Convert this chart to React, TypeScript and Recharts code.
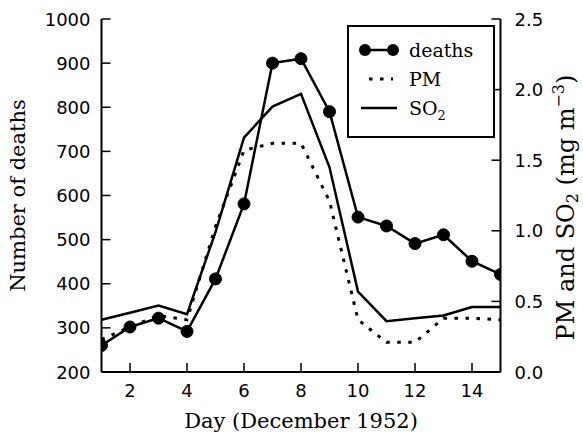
import React from 'react';
import { LineChart, Line, XAxis, YAxis, Legend } from 'recharts';

const days = [1, 2, 3, 4, 5, 6, 7, 8, 9, 10, 11, 12, 13, 14, 15];
const deaths = [260, 302, 322, 292, 411, 581, 900, 910, 790, 551, 531, 491, 511, 451, 421];
const pm = [0.23, 0.32, 0.4, 0.37, 1.03, 1.57, 1.62, 1.62, 1.21, 0.37, 0.21, 0.21, 0.38, 0.38, 0.37];
const so2 = [0.37, 0.42, 0.47, 0.41, 0.99, 1.66, 1.88, 1.97, 1.45, 0.57, 0.36, 0.38, 0.4, 0.46, 0.46];

const dayTicks = [2, 4, 6, 8, 10, 12, 14];
const deathTicks = [200, 300, 400, 500, 600, 700, 800, 900, 1000];
const concTicks = [0, 0.5, 1.0, 1.5, 2.0, 2.5];
const legendOrder = ['deaths', 'PM', 'SO2'];

const data = days.map((d, i) => ({ day: d, deaths: deaths[i], pm: pm[i], so2: so2[i] }));

const TICK = 9;
const SANS = 'DejaVu Sans';
const SERIF = 'DejaVu Serif';

const BottomTick = (props: any) => {
  const { x, y, payload } = props;
  return (
    <g>
      <line x1={x} y1={y} x2={x} y2={y - TICK} stroke="#000" strokeWidth={1.5} />
      <text x={x} y={y + 25} textAnchor="middle" fontFamily={SANS} fontSize={18} fill="#000">
        {payload.value}
      </text>
    </g>
  );
};

const TopTick = (props: any) => {
  const { x, y } = props;
  return <line x1={x} y1={y} x2={x} y2={y + TICK} stroke="#000" strokeWidth={1.5} />;
};

const LeftTick = (props: any) => {
  const { x, y, payload } = props;
  return (
    <g>
      <line x1={x} y1={y} x2={x + TICK} y2={y} stroke="#000" strokeWidth={1.5} />
      <text x={x - 11} y={y + 6.5} textAnchor="end" fontFamily={SANS} fontSize={18} fill="#000">
        {payload.value}
      </text>
    </g>
  );
};

const RightTick = (props: any) => {
  const { x, y, payload } = props;
  return (
    <g>
      <line x1={x} y1={y} x2={x - TICK} y2={y} stroke="#000" strokeWidth={1.5} />
      <text x={x + 14} y={y + 6.5} textAnchor="start" fontFamily={SANS} fontSize={18} fill="#000">
        {Number(payload.value).toFixed(1)}
      </text>
    </g>
  );
};

const LeftLabel = (props: any) => {
  const { viewBox } = props;
  const cy = viewBox.y + viewBox.height / 2;
  return (
    <text x={0} y={0} transform={`translate(25, ${cy}) rotate(-90)`} textAnchor="middle"
      fontFamily={SERIF} fontSize={21} fill="#000">
      Number of deaths
    </text>
  );
};

const RightLabel = (props: any) => {
  const { viewBox } = props;
  const cy = viewBox.y + viewBox.height / 2 + 12;
  return (
    <text x={0} y={0} transform={`translate(574, ${cy}) rotate(-90)`} textAnchor="middle"
      fontFamily={SERIF} fontSize={24} fill="#000">
      PM and SO<tspan fontSize={16} dy={4}>2</tspan>
      <tspan dy={-4}> (mg m</tspan>
      <tspan fontSize={16} dy={-10}>−3</tspan>
      <tspan dy={10}>)</tspan>
    </text>
  );
};

const BottomLabel = (props: any) => {
  const { viewBox } = props;
  const cx = viewBox.x + viewBox.width / 2;
  return (
    <text x={cx} y={428} textAnchor="middle" fontFamily={SERIF} fontSize={21} fill="#000">
      Day (December 1952)
    </text>
  );
};

const LegendIcon = ({ name }: { name: string }) => {
  if (name === 'deaths') {
    return (
      <svg width={40} height={16}>
        <line x1={6} y1={8} x2={34} y2={8} stroke="#000" strokeWidth={2.5} />
        <circle cx={6} cy={8} r={6} fill="#000" />
        <circle cx={34} cy={8} r={6} fill="#000" />
      </svg>
    );
  }
  if (name === 'PM') {
    return (
      <svg width={40} height={16}>
        <line x1={10} y1={8} x2={34} y2={8} stroke="#000" strokeWidth={3} strokeDasharray="3.5 7.5" />
      </svg>
    );
  }
  return (
    <svg width={40} height={16}>
      <line x1={2} y1={8} x2={38} y2={8} stroke="#000" strokeWidth={2.5} />
    </svg>
  );
};

const renderLegend = (props: any) => {
  const payload = [...(props.payload || [])].sort(
    (a: any, b: any) => legendOrder.indexOf(a.value) - legendOrder.indexOf(b.value)
  );
  return (
    <div style={{ border: '2px solid #000', background: '#fff', padding: '8px 8px 12px 10px', boxSizing: 'border-box', width: 148, height: 113 }}>
      {payload.map((entry: any) => (
        <div key={entry.value} style={{ display: 'flex', alignItems: 'center', height: 29 }}>
          <LegendIcon name={entry.value} />
          <span style={{ marginLeft: 10, fontFamily: SERIF, fontSize: 19, color: '#000', lineHeight: '20px' }}>
            {entry.value === 'SO2' ? <>SO<sub style={{ fontSize: 13, lineHeight: 0 }}>2</sub></> : entry.value}
          </span>
        </div>
      ))}
    </div>
  );
};

export default function App() {
  return (
    <div style={{ position: 'absolute', left: 0, top: 0, background: '#fff' }}>
      <LineChart width={583} height={434} data={data} margin={{ top: 19, right: 2.5, bottom: 2, left: 1.5 }}>
        <XAxis dataKey="day" type="number" domain={[1, 15]} ticks={dayTicks} tickSize={0} tickMargin={0}
          tick={BottomTick} axisLine={{ stroke: '#000', strokeWidth: 2 }} height={60}
          label={<BottomLabel />} allowDataOverflow />
        <XAxis xAxisId="top" orientation="top" dataKey="day" type="number" domain={[1, 15]} ticks={dayTicks}
          tickSize={0} tickMargin={0} tick={TopTick} axisLine={{ stroke: '#000', strokeWidth: 2 }} height={0} />
        <YAxis yAxisId="left" domain={[200, 1000]} ticks={deathTicks} tickSize={0} tickMargin={0}
          tick={LeftTick} axisLine={{ stroke: '#000', strokeWidth: 2 }} width={100} label={<LeftLabel />} />
        <YAxis yAxisId="right" orientation="right" domain={[0, 2.5]} ticks={concTicks} tickSize={0} tickMargin={0}
          tick={RightTick} axisLine={{ stroke: '#000', strokeWidth: 2 }} width={80} label={<RightLabel />} />
        <Legend content={renderLegend} layout="vertical" align="center" verticalAlign="middle"
          wrapperStyle={{ position: 'absolute', left: 347, top: 25, width: 148, height: 113 }} />
        <Line yAxisId="left" dataKey="deaths" name="deaths" stroke="#000" strokeWidth={2.5}
          dot={{ r: 6, fill: '#000', stroke: '#000', strokeWidth: 1 }} isAnimationActive={false} />
        <Line yAxisId="right" dataKey="pm" name="PM" stroke="#000" strokeWidth={3} strokeDasharray="3.5 7.5"
          dot={false} isAnimationActive={false} />
        <Line yAxisId="right" dataKey="so2" name="SO2" stroke="#000" strokeWidth={2.5}
          dot={false} isAnimationActive={false} />
      </LineChart>
    </div>
  );
}
